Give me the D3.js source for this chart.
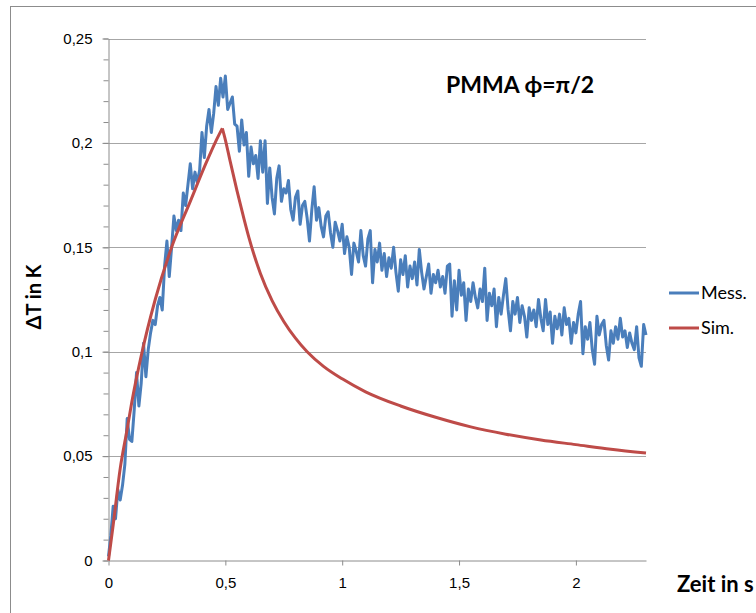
<!DOCTYPE html>
<html>
<head>
<meta charset="utf-8">
<script src="https://cdnjs.cloudflare.com/ajax/libs/d3/7.8.5/d3.min.js"></script>
<style>
  body { margin: 0; background: #fff; }
  svg { display: block; font-family: Lato, "Open Sans", sans-serif; }
  .axis path, .axis line { stroke: #8c8c8c; }
  .axis text { font-size: 15px; fill: #000; }
</style>
</head>
<body>
<script>
// measured data (Mess.), sampled every 0.01 s from t = 0
var messStep = 0.01;
var messValues = [
  0.002, 0.012, 0.026, 0.020, 0.034, 0.029, 0.036, 0.046, 0.068, 0.058,
  0.057, 0.072, 0.090, 0.074, 0.085, 0.104, 0.088, 0.101, 0.109, 0.115,
  0.113, 0.122, 0.126, 0.120, 0.141, 0.153, 0.136, 0.150, 0.165, 0.158,
  0.163, 0.158, 0.176, 0.170, 0.180, 0.190, 0.178, 0.186, 0.181, 0.187,
  0.205, 0.193, 0.208, 0.216, 0.205, 0.214, 0.227, 0.218, 0.231, 0.222,
  0.232, 0.216, 0.219, 0.222, 0.209, 0.208, 0.196, 0.211, 0.199, 0.205,
  0.184, 0.198, 0.190, 0.194, 0.183, 0.201, 0.186, 0.201, 0.171, 0.188,
  0.174, 0.166, 0.183, 0.189, 0.172, 0.178, 0.176, 0.182, 0.168, 0.163,
  0.174, 0.177, 0.161, 0.170, 0.172, 0.164, 0.153, 0.168, 0.179, 0.163,
  0.169, 0.160, 0.155, 0.165, 0.167, 0.157, 0.150, 0.162, 0.158, 0.153,
  0.161, 0.147, 0.155, 0.150, 0.137, 0.152, 0.148, 0.143, 0.158, 0.146,
  0.141, 0.154, 0.158, 0.133, 0.149, 0.143, 0.152, 0.139, 0.147, 0.136,
  0.145, 0.140, 0.150, 0.138, 0.129, 0.144, 0.137, 0.146, 0.131, 0.141,
  0.135, 0.143, 0.132, 0.149, 0.138, 0.130, 0.136, 0.142, 0.128, 0.137,
  0.133, 0.139, 0.131, 0.136, 0.128, 0.141, 0.142, 0.117, 0.134, 0.120,
  0.139, 0.127, 0.133, 0.115, 0.130, 0.124, 0.133, 0.126, 0.121, 0.130,
  0.124, 0.140, 0.115, 0.128, 0.122, 0.130, 0.112, 0.126, 0.118, 0.127,
  0.135, 0.120, 0.110, 0.124, 0.118, 0.126, 0.114, 0.122, 0.117, 0.107,
  0.121, 0.115, 0.120, 0.112, 0.125, 0.116, 0.110, 0.125, 0.113, 0.119,
  0.104, 0.117, 0.111, 0.118, 0.108, 0.121, 0.113, 0.116, 0.104, 0.114,
  0.109, 0.118, 0.124, 0.099, 0.112, 0.106, 0.114, 0.101, 0.094, 0.117,
  0.108, 0.113, 0.115, 0.103, 0.096, 0.110, 0.104, 0.112, 0.106, 0.116,
  0.107, 0.110, 0.102, 0.109, 0.104, 0.101, 0.112, 0.097, 0.093, 0.113,
  0.108
];

// simulation (Sim.), rising part up to the peak, then the decay
var simRiseTimes = [0, 0.02, 0.05, 0.08, 0.1, 0.14, 0.2, 0.27, 0.35, 0.42, 0.46, 0.487];
var simRiseValues = [0, 0.017, 0.044, 0.063, 0.076, 0.098, 0.125, 0.150, 0.172, 0.191, 0.201, 0.207];
var simFallTimes = [0.487, 0.5, 0.52, 0.55, 0.58, 0.6, 0.65, 0.7, 0.75, 0.8, 0.85, 0.92, 1.0, 1.1, 1.25,
  1.4, 1.55, 1.7, 1.85, 2.0, 2.15, 2.3];
var simFallValues = [0.207, 0.2015, 0.1915, 0.177, 0.1635, 0.1550, 0.1375, 0.1245, 0.1145, 0.1065, 0.1000, 0.0930,
  0.0870, 0.0808, 0.0740, 0.0686, 0.0640, 0.0605, 0.0577, 0.0555, 0.0533, 0.0515];

var xTicks = [0, 0.5, 1, 1.5, 2];
var yTicks = [0, 0.05, 0.1, 0.15, 0.2, 0.25];
var yMinorTicks = d3.range(0, 26).map(function(i) { return i / 100; });

var seriesNames = ["Mess.", "Sim."];
var seriesColors = ["#4a7ebb", "#be4b48"];

var width = 756, height = 613;
var plot = {left: 108.5, right: 646, top: 38.5, bottom: 560.5};

var svg = d3.select("body").append("svg")
    .attr("width", width)
    .attr("height", height);

// chart area border
svg.append("rect")
    .attr("x", 10.5).attr("y", 6.5)
    .attr("width", 800).attr("height", 700)
    .attr("fill", "#fff")
    .attr("stroke", "#8c8c8c");

var xScale = d3.scaleLinear().domain([0, 2.3]).range([plot.left, plot.right]);
var yScale = d3.scaleLinear().domain([0, 0.25]).range([plot.bottom, plot.top]);

var fmt = function(d) { return String(d).replace(".", ","); };

// gridlines
svg.append("g")
    .selectAll("line")
    .data(yTicks.slice(1))
    .enter()
    .append("line")
    .attr("x1", plot.left)
    .attr("x2", plot.right)
    .attr("y1", function(d) { return Math.round(yScale(d)) + 0.5; })
    .attr("y2", function(d) { return Math.round(yScale(d)) + 0.5; })
    .attr("stroke", "#a6a6a6");

// minor y ticks
var yMinor = d3.axisLeft(yScale).tickValues(yMinorTicks).tickSize(5).tickFormat("");
svg.append("g")
    .attr("class", "axis")
    .call(yMinor)
    .attr("transform", "translate(" + plot.left + ",0)")
    .select(".domain").remove();

var yAxis = d3.axisLeft(yScale).tickValues(yTicks).tickSize(6).tickSizeOuter(0)
    .tickPadding(10).tickFormat(fmt);
svg.append("g")
    .attr("class", "axis")
    .attr("transform", "translate(" + plot.left + ",0)")
    .call(yAxis);

var xAxis = d3.axisBottom(xScale).tickValues(xTicks).tickSize(5).tickSizeOuter(0)
    .tickPadding(12).tickFormat(fmt);
svg.append("g")
    .attr("class", "axis")
    .attr("transform", "translate(0," + plot.bottom + ")")
    .call(xAxis);

// lines
var messData = messValues.map(function(v, i) { return [i * messStep, v]; });
var simRise = simRiseTimes.map(function(t, i) { return [t, simRiseValues[i]]; });
var simFall = simFallTimes.map(function(t, i) { return [t, simFallValues[i]]; });

var line = d3.line()
    .x(function(d) { return xScale(d[0]); })
    .y(function(d) { return yScale(d[1]); });

var smooth = d3.line()
    .x(function(d) { return xScale(d[0]); })
    .y(function(d) { return yScale(d[1]); })
    .curve(d3.curveMonotoneX);

svg.append("path")
    .datum(messData)
    .attr("d", line)
    .attr("fill", "none")
    .attr("stroke", seriesColors[0])
    .attr("stroke-width", 3)
    .attr("stroke-linejoin", "round");

svg.append("path")
    .attr("d", smooth(simRise) + smooth(simFall))
    .attr("fill", "none")
    .attr("stroke", seriesColors[1])
    .attr("stroke-width", 3)
    .attr("stroke-linejoin", "round");

// title
svg.append("text")
    .attr("x", 446)
    .attr("y", 93)
    .style("font-size", "23px")
    .style("font-weight", "bold")
    .text("PMMA \u03D5=\u03C0/2");

// axis titles
svg.append("text")
    .attr("transform", "translate(41,297) rotate(-90)")
    .style("text-anchor", "middle")
    .style("font-size", "20px")
    .style("font-weight", "bold")
    .text("\u0394T in K");

svg.append("text")
    .attr("x", 677)
    .attr("y", 592)
    .style("font-size", "22px")
    .style("font-weight", "bold")
    .text("Zeit in s");

// legend
var legend = svg.selectAll(".legend")
    .data(seriesNames)
    .enter()
    .append("g")
    .attr("class", "legend")
    .attr("transform", function(d, i) { return "translate(669," + (293 + i * 35) + ")"; });

legend.append("line")
    .attr("x1", 0).attr("x2", 30)
    .attr("stroke", function(d, i) { return seriesColors[i]; })
    .attr("stroke-width", 3);

legend.append("text")
    .attr("x", 32)
    .attr("dy", "0.35em")
    .style("font-size", "18px")
    .text(function(d) { return d; });
</script>
</body>
</html>
